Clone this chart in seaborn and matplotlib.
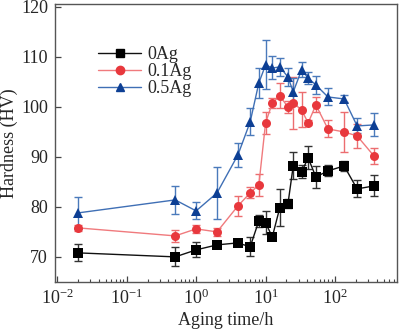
import numpy as np
import pandas as pd
import matplotlib
matplotlib.use("Agg")
import matplotlib.pyplot as plt
import seaborn as sns
from matplotlib.lines import Line2D

# Aging times (h)
aging_time = [0.02, 0.5, 1, 2, 4, 6, 8, 10, 12.5, 16, 21, 25, 33, 41, 53, 79, 135, 208, 363]

# Hardness (HV) and error for each alloy
hv_0ag = [70.8, 70.0, 71.4, 72.4, 72.8, 72.0, 77.2, 76.8, 74.0, 79.8, 80.6,
          88.2, 87.0, 89.8, 86.0, 87.2, 88.2, 83.6, 84.2]
err_0ag = [1.7, 1.9, 1.5, 0.7, 0.5, 1.9, 1.2, 2.3, 0.5, 3.7, 0.9,
           2.7, 1.3, 2.3, 2.2, 1.1, 1.0, 1.7, 2.1]

hv_01ag = [75.8, 74.2, 75.6, 75.0, 80.2, 82.8, 84.4, 96.8, 100.8, 102.2, 100.0,
           100.8, 99.4, 96.8, 100.4, 95.6, 95.0, 94.2, 90.2]
err_01ag = [0.6, 1.2, 0.8, 0.8, 2.0, 1.1, 2.2, 2.2, 1.0, 2.5, 1.2,
            5.2, 3.5, 0.5, 1.5, 1.7, 4.0, 2.4, 1.6]

hv_05ag = [78.8, 81.4, 79.2, 82.8, 90.4, 97.0, 104.8, 108.4, 107.8, 108.0, 106.0,
           103.0, 107.4, 105.8, 104.4, 102.0, 101.6, 96.2, 96.4]
err_05ag = [3.2, 2.8, 1.7, 5.2, 2.4, 2.7, 3.0, 4.9, 2.3, 1.8, 1.8,
            2.7, 1.5, 1.2, 1.8, 1.7, 0.7, 1.5, 2.3]

labels = ["0Ag", "0.1Ag", "0.5Ag"]

sns.set_theme(style="ticks")
plt.rcParams["font.family"] = ["Liberation Serif", "DejaVu Serif"]
plt.rcParams["mathtext.fontset"] = "stix"
plt.rcParams["xtick.direction"] = "in"
plt.rcParams["ytick.direction"] = "in"

frames = []
for lab, hv, er in zip(labels, [hv_0ag, hv_01ag, hv_05ag], [err_0ag, err_01ag, err_05ag]):
    frames.append(pd.DataFrame({"time": aging_time, "hv": hv, "err": er, "alloy": lab}))
df = pd.concat(frames, ignore_index=True)

fig = plt.figure(figsize=(4.0, 3.32), dpi=100)
ax = fig.add_axes([0.1375, 0.151, 0.855, 0.837])

styles = {
    "0Ag":   dict(color="#000000", line="#111111", err="#333333", marker="s"),
    "0.1Ag": dict(color="#e8383d", line="#f07a7d", err="#ec6d70", marker="o"),
    "0.5Ag": dict(color="#0d3f94", line="#3f6fb5", err="#4a7abb", marker="^"),
}

for lab in labels:
    sub = df[df["alloy"] == lab]
    st = styles[lab]
    ax.errorbar(sub["time"], sub["hv"], yerr=sub["err"], fmt="none",
                ecolor=st["err"], elinewidth=1.0, capsize=3, capthick=1.0, zorder=2)

palette = {lab: styles[lab]["line"] for lab in labels}
sns.lineplot(data=df, x="time", y="hv", hue="alloy", style="alloy",
             hue_order=labels, style_order=labels, palette=palette,
             markers={lab: styles[lab]["marker"] for lab in labels},
             dashes=False, linewidth=1.0, markersize=6.5, markeredgewidth=0,
             ax=ax, legend=False, zorder=3)

# colour markers with the stronger tone of each series
for line, lab in zip(ax.get_lines()[-3:], labels):
    line.set_markerfacecolor(styles[lab]["color"])
    line.set_markeredgecolor(styles[lab]["color"])

ax.set_xscale("log")
ax.set_xlim(0.0093, 780)
ax.set_ylim(65, 120.6)
ax.set_yticks([70, 80, 90, 100, 110, 120])
ax.set_xticks([1e-2, 1e-1, 1e0, 1e1, 1e2])

ax.set_xlabel("Aging time/h", fontsize=13, labelpad=3)
ax.set_ylabel("Hardness (HV)", fontsize=13, labelpad=2)
ax.tick_params(axis="both", which="major", labelsize=13, length=4, width=0.9,
               color="#444444", top=False, right=False, pad=5)
ax.tick_params(axis="x", which="minor", length=2, width=0.8, color="#444444",
               top=False)
for sp in ax.spines.values():
    sp.set_color("#555555")
    sp.set_linewidth(1.0)

handles = [Line2D([], [], color=styles[lab]["line"], lw=1.0, marker=styles[lab]["marker"],
                  markersize=6, markerfacecolor=styles[lab]["color"],
                  markeredgecolor=styles[lab]["color"]) for lab in labels]
ax.legend(handles, labels, loc="upper left", bbox_to_anchor=(0.105, 0.875),
          frameon=False, fontsize=13, handlelength=2.4, handletextpad=0.35,
          labelspacing=0.0, borderaxespad=0)

fig.savefig("out.png", dpi=100)
